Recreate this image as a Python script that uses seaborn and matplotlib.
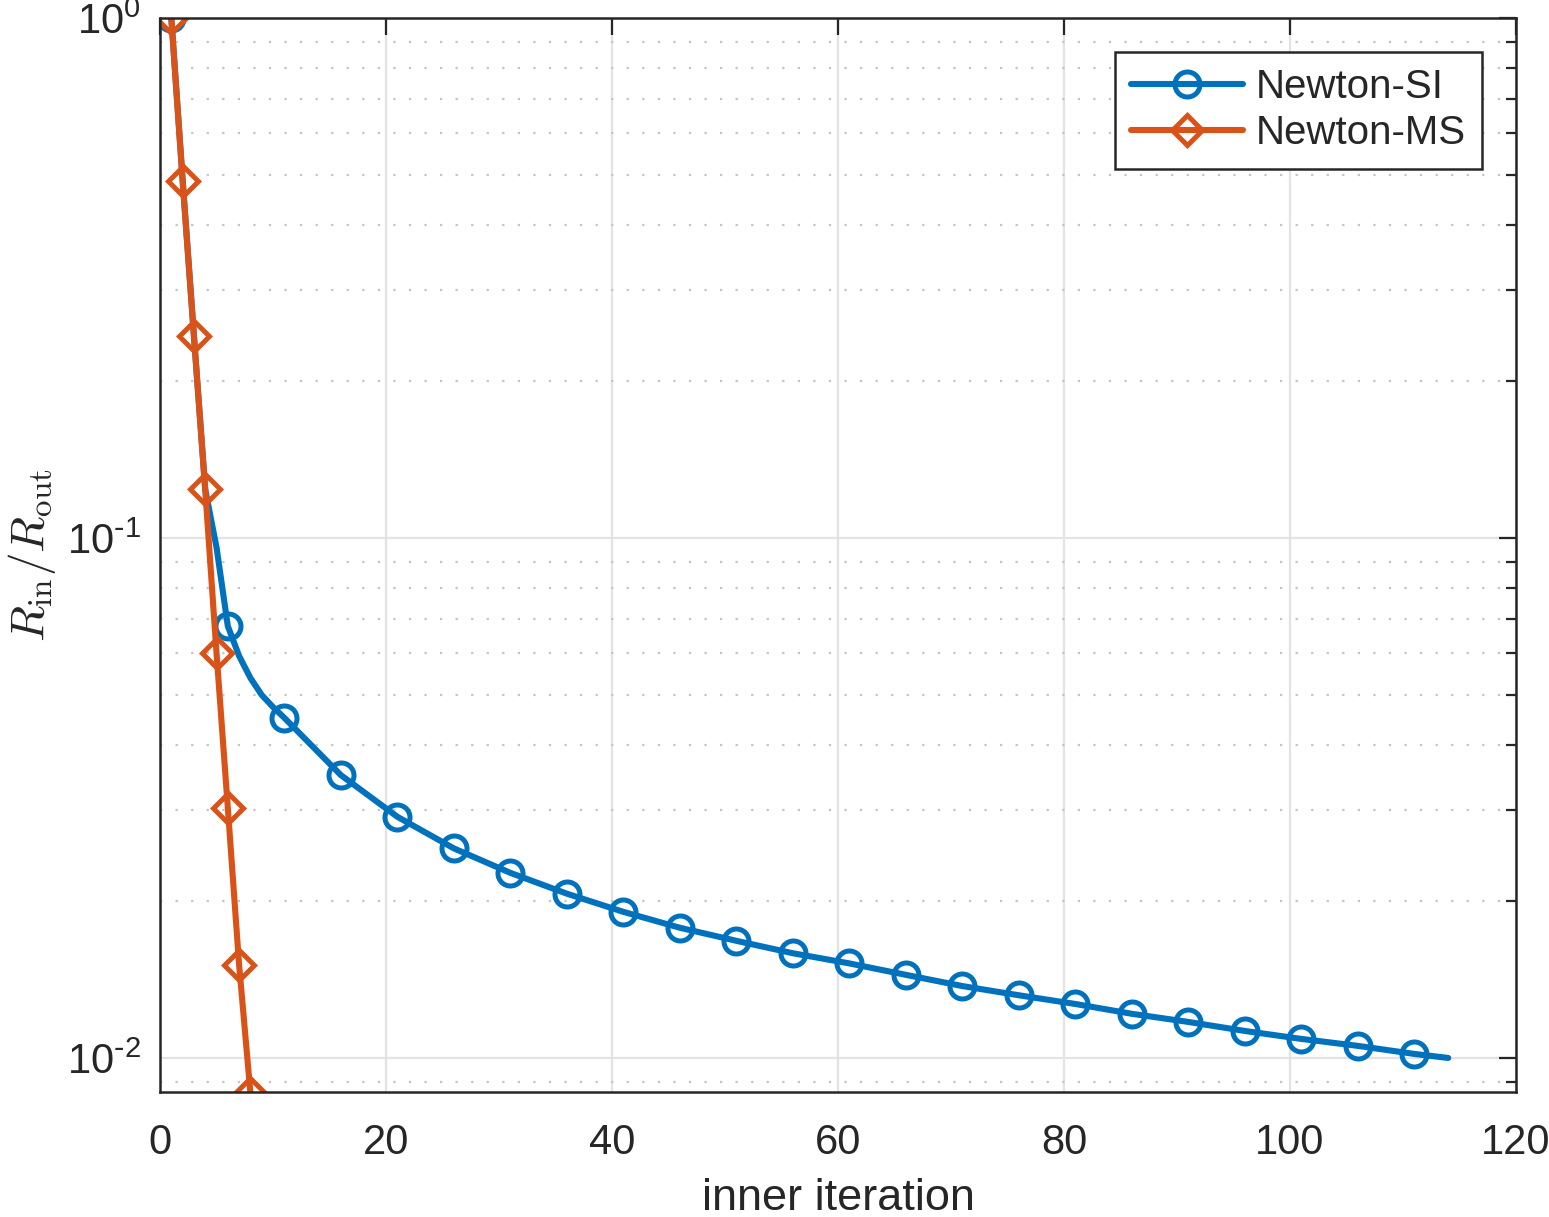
import matplotlib
matplotlib.use("Agg")
import matplotlib.pyplot as plt
import seaborn as sns
import numpy as np

# Newton-SI: inner iteration vs R_in/R_out (markers every 5 iterations)
si_iter = [1, 2, 3, 4, 5, 6, 7, 8, 9, 10, 11, 16, 21, 26, 31, 36, 41, 46, 51,
           56, 61, 66, 71, 76, 81, 86, 91, 96, 101, 106, 111, 114]
si_ratio = [1.0, 0.49, 0.245, 0.124, 0.096, 0.0677, 0.0593, 0.0538, 0.0499, 0.0473,
            0.0451, 0.0350, 0.0291, 0.0253, 0.0227, 0.0207, 0.0191, 0.0178, 0.0168,
            0.0159, 0.0152, 0.01445, 0.01375, 0.0132, 0.0127, 0.01216, 0.01173,
            0.01127, 0.01088, 0.01055, 0.01018, 0.0100]
si_marked = [1, 6, 11, 16, 21, 26, 31, 36, 41, 46, 51, 56, 61, 66, 71, 76, 81,
             86, 91, 96, 101, 106, 111]

# Newton-MS
ms_iter = [1, 2, 3, 4, 5, 6, 7, 8]
ms_ratio = [1.0, 0.486, 0.245, 0.124, 0.0601, 0.0303, 0.0151, 0.00857]

x_ticks = [0, 20, 40, 60, 80, 100, 120]
y_ticks = [0.01, 0.1, 1.0]
y_ticklabels = [r"$\mathdefault{10^{\text{-}2}}$", r"$\mathdefault{10^{\text{-}1}}$",
                r"$\mathdefault{10^{0}}$"]

sns.set_style("white")
plt.rcParams["font.family"] = ["Liberation Sans", "DejaVu Sans"]

fig = plt.figure(figsize=(15.49, 12.17), dpi=100)
ax = fig.add_axes([0.1033, 0.1027, 0.8754, 0.8825])

blue = "#0072BD"
orange = "#D95319"

mark_idx = [si_iter.index(v) for v in si_marked]
sns.lineplot(x=si_iter, y=si_ratio, ax=ax, color=blue, label="Newton-SI",
             sort=False, estimator=None)
sns.lineplot(x=ms_iter, y=ms_ratio, ax=ax, color=orange, label="Newton-MS",
             sort=False, estimator=None)

l_si, l_ms = ax.lines[0], ax.lines[1]
for ln, col in [(l_si, blue), (l_ms, orange)]:
    ln.set_linewidth(4.4)
    ln.set_markerfacecolor("none")
    ln.set_markeredgecolor(col)
    ln.set_markeredgewidth(3.6)
    ln.set_solid_joinstyle("round")
l_si.set_marker("o")
l_si.set_markersize(18)
l_si.set_markevery(mark_idx)
l_ms.set_marker("D")
l_ms.set_markersize(15)

ax.set_yscale("log")
ax.set_xlim(0, 120)
ax.set_ylim(0.0086, 1.0)
ax.set_xticks(x_ticks)
ax.set_xticklabels([str(t) for t in x_ticks])
ax.set_yticks(y_ticks)
ax.set_yticklabels(y_ticklabels)

ax.grid(True, which="major", axis="both", color="#e3e3e3", lw=1.6, ls="-")
ax.grid(True, which="minor", axis="y", color="#c4c4c4", lw=1.6, ls=(0, (1, 6)))
ax.set_axisbelow(True)

ax.tick_params(which="both", direction="in", top=True, right=True,
               labelsize=30, width=1.6, colors="#262626")
ax.tick_params(which="major", length=12)
ax.tick_params(axis="x", which="major", pad=22)
ax.tick_params(axis="y", which="major", pad=14)
ax.tick_params(which="minor", length=7)
ax.tick_params(axis="x", which="minor", bottom=False, top=False)
for s in ax.spines.values():
    s.set_linewidth(1.8)
    s.set_color("#262626")

ax.set_xlabel("inner iteration", fontsize=32.5, color="#262626", labelpad=11)
ax.set_ylabel(r"$R_\mathrm{in}/R_\mathrm{out}$", fontsize=34, color="#262626",
              math_fontfamily="cm", labelpad=6)

leg = ax.legend(loc="upper right", fontsize=29, frameon=True, fancybox=False,
                edgecolor="#262626", framealpha=1, handlelength=2.8,
                borderaxespad=0.85, borderpad=0.4, labelspacing=0.2,
                handletextpad=0.3)
leg.get_frame().set_linewidth(1.8)

fig.savefig("out.png", dpi=100)
